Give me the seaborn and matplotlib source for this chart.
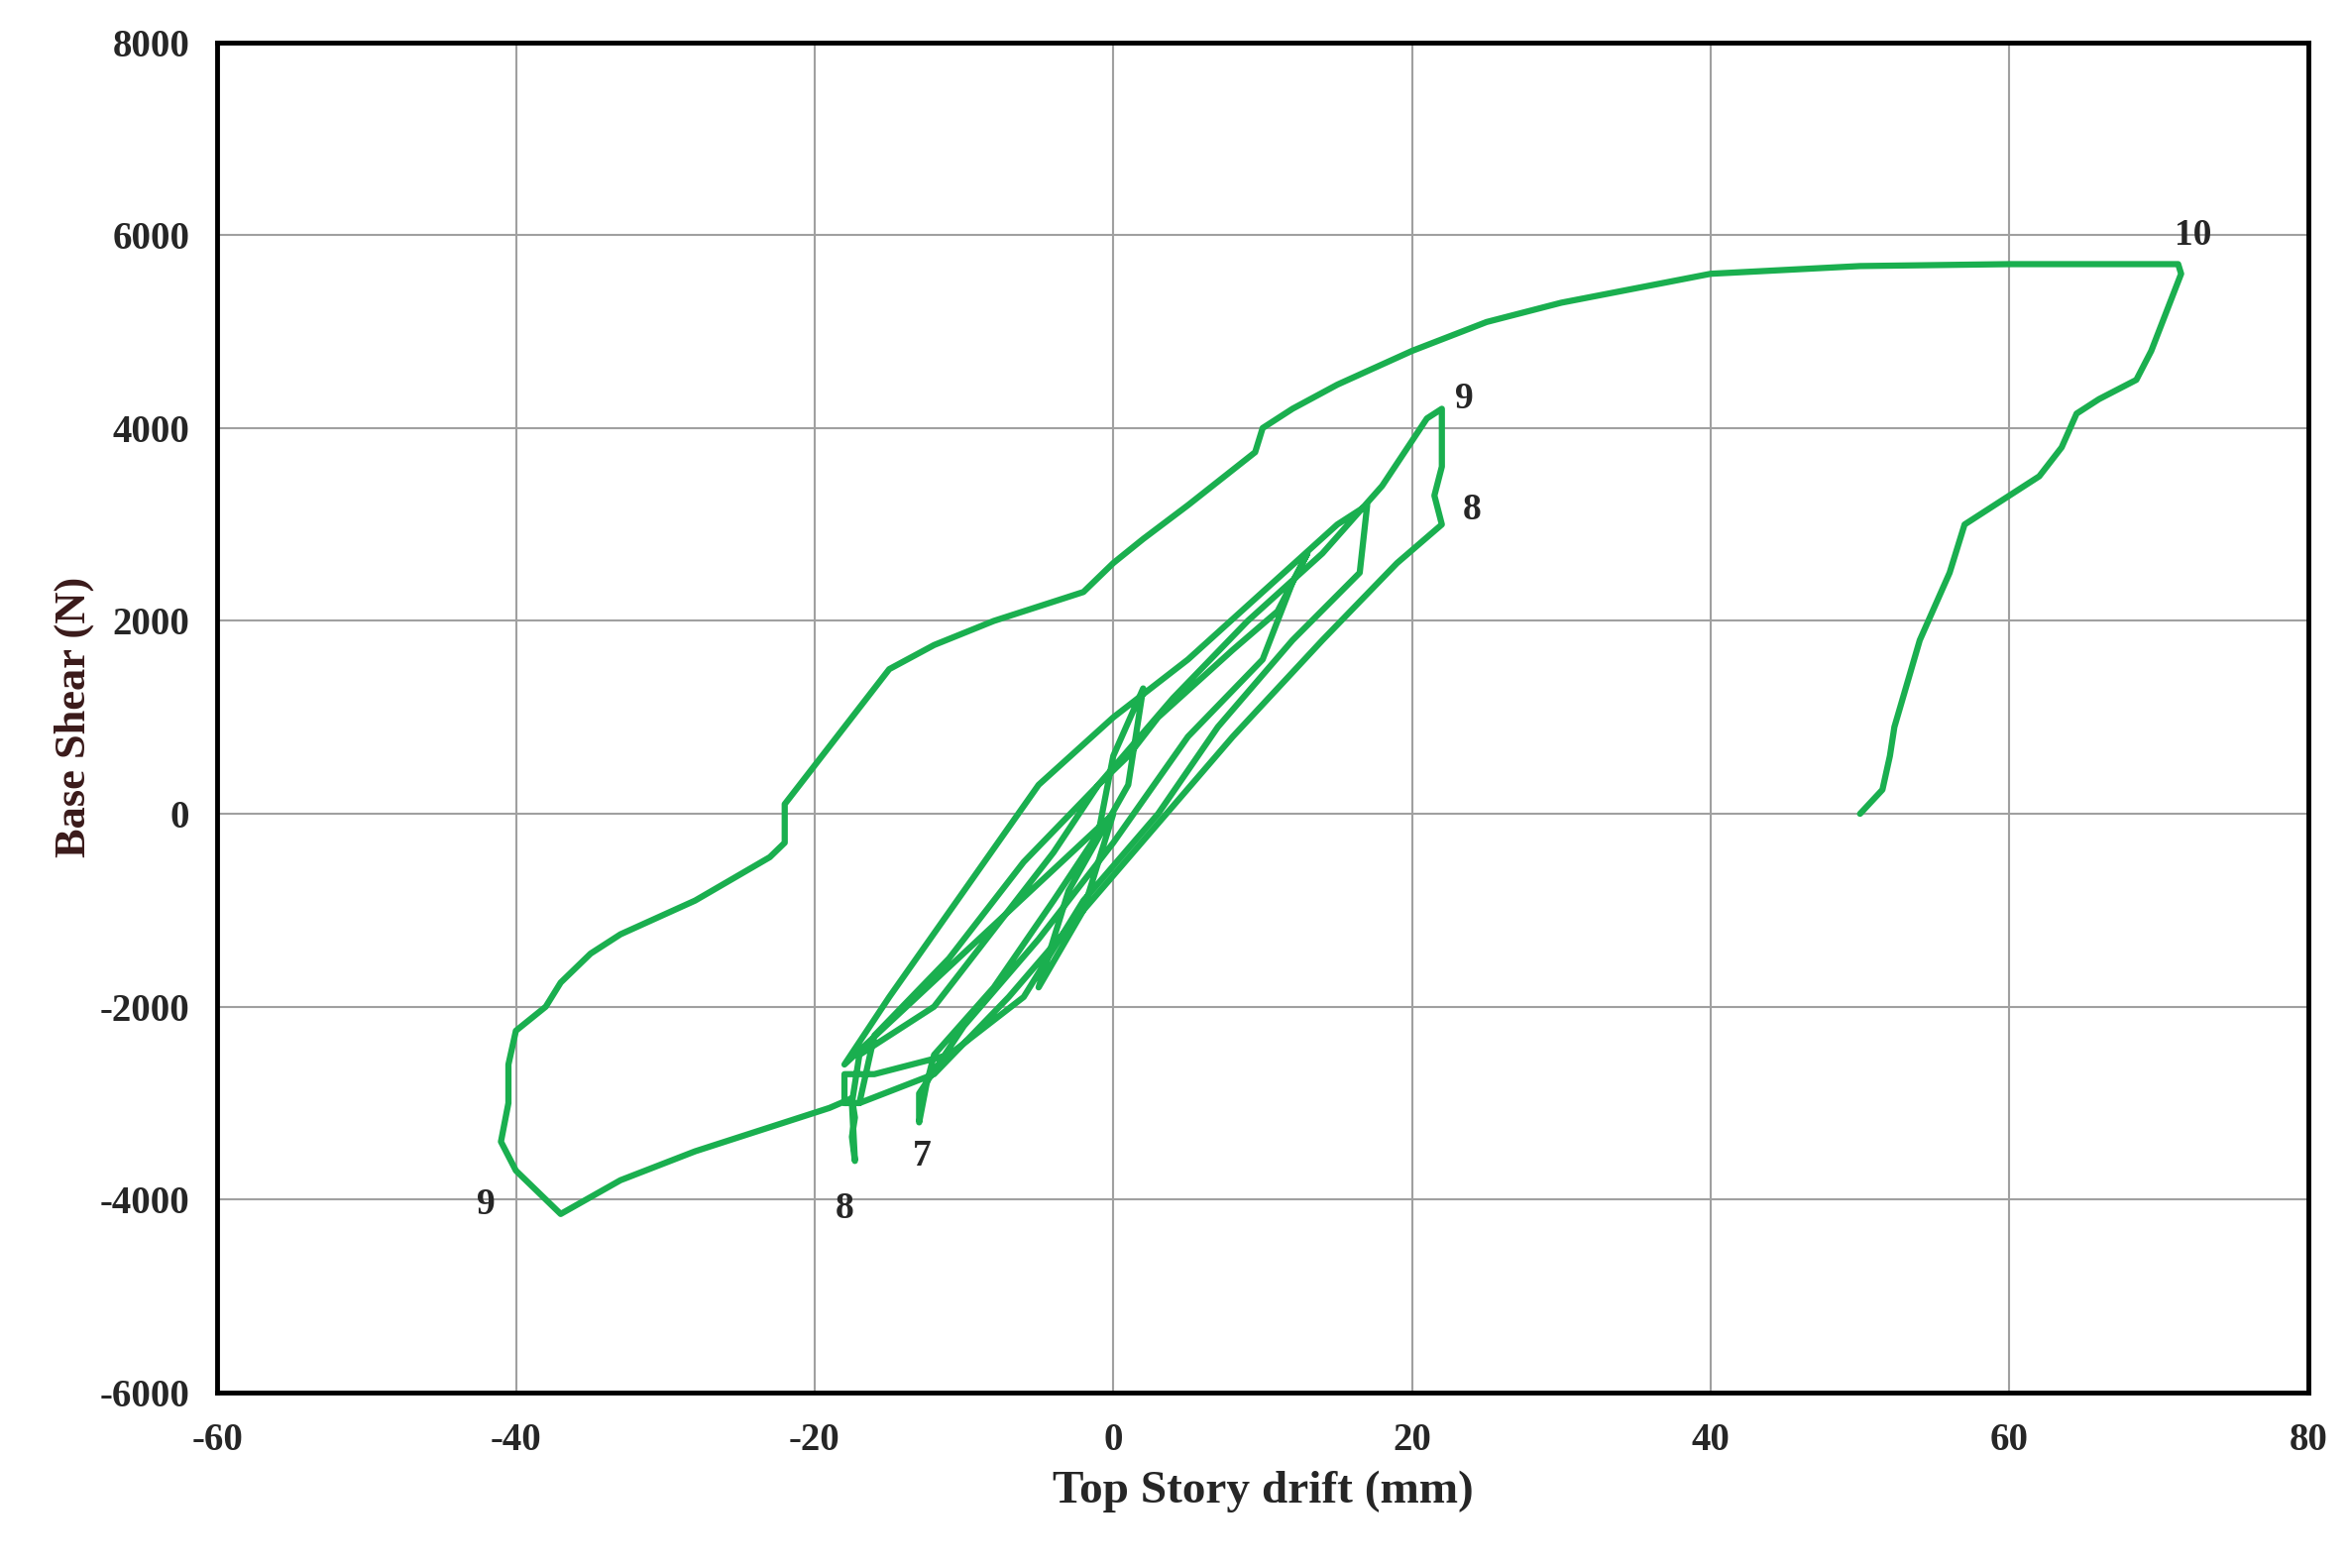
import matplotlib
matplotlib.use("Agg")
import matplotlib.pyplot as plt
import seaborn as sns
import pandas as pd

sns.set_style("whitegrid")
plt.rcParams['font.family'] = ['Liberation Serif', 'DejaVu Serif']
plt.rcParams['axes.unicode_minus'] = False

# hysteresis path (drift mm, base shear N)
drift = [50, 51.5, 52, 52.3, 54, 56, 57, 60, 62, 63.5, 64.5, 66, 68.5, 69.5, 71, 71.5, 71.3,
         65, 60, 50, 40, 30, 25, 20, 15, 12, 10, 9.5, 5, 2, 0, -2, -8, -12, -15, -16.5, -18, -20, -22, -22, -23,
         -28, -33, -35, -37, -38, -40, -40.5, -40.5, -41, -40, -37,
         -33, -28, -22, -19, -17.5, -17.3, -17.5, -17.3,
         -17.5, -17, -12, -8, -4, -1, 1, 3, 8, 11, 13, 12, 10, 5, 0, -5, -10, -13, -13,
         -12.5, -12, -8, -4, -1, 0, 2, 1, -3, -5, -2, 0,
         -18, -15, -10, -5, 0, 5, 10, 15, 17, 16.5, 12, 7, 3, -2, -6, -11, -16, -18, -18,
         -17, -16, -11, -6, -1, 4, 9, 14, 18, 21, 22, 22, 21.5, 22, 19, 14, 8, 3, -2, -7, -12, -17]
shear = [0, 250, 600, 900, 1800, 2500, 3000, 3300, 3500, 3800, 4150, 4300, 4500, 4800, 5400, 5600, 5700,
         5700, 5700, 5680, 5600, 5300, 5100, 4800, 4450, 4200, 4000, 3750, 3200, 2850, 2600, 2300, 2000, 1750, 1500, 1200, 900, 500, 100, -300, -450,
         -900, -1250, -1450, -1750, -2000, -2250, -2600, -3000, -3400, -3700, -4150,
         -3800, -3500, -3200, -3050, -2950, -3150, -3350, -3600,
         -3000, -2500, -2000, -1200, -400, 300, 600, 1000, 1700, 2100, 2700, 2400, 1600, 800, -300, -1300, -2200, -2900, -3200,
         -2800, -2500, -1800, -900, -200, 600, 1300, 300, -800, -1800, -1000, 0,
         -2600, -1900, -800, 300, 1000, 1600, 2300, 3000, 3200, 2500, 1800, 900, 0, -900, -1900, -2500, -2700, -2700, -3000,
         -3000, -2300, -1500, -500, 300, 1200, 2000, 2700, 3400, 4100, 4200, 3600, 3300, 3000, 2600, 1800, 800, -100, -1000, -1900, -2700, -3000]

label_text = ['10', '9', '8', '7', '8', '9']
label_x = [72.3, 23.5, 24, -12.8, -18, -42]
label_y = [6000, 4300, 3150, -3550, -4100, -4050]

df = pd.DataFrame({'drift': drift, 'shear': shear})

fig = plt.figure(figsize=(23.69, 15.82), dpi=100)
ax = fig.add_axes([0.0925, 0.112, 0.8905, 0.861])
sns.lineplot(data=df, x='drift', y='shear', sort=False, estimator=None,
             color='#1aaf4f', linewidth=4.5, ax=ax)

for t, x, y in zip(label_text, label_x, label_y):
    ax.text(x, y, t, fontsize=27, fontweight='bold', ha='center', va='center')

ax.set_xlim(-60, 80)
ax.set_ylim(-6000, 8000)
ax.set_xticks(range(-60, 81, 20))
ax.set_yticks(range(-6000, 8001, 2000))
ax.grid(True, color='#a0a0a0', linewidth=1.5)
for s in ax.spines.values():
    s.set_color('black')
    s.set_linewidth(3.5)
ax.tick_params(labelsize=28, length=0)
ax.tick_params(axis='x', pad=22)
ax.tick_params(axis='y', pad=20)
for lab in ax.get_xticklabels() + ax.get_yticklabels():
    lab.set_fontweight('bold')
ax.set_xlabel('Top Story drift (mm)', fontsize=34, fontweight='bold', labelpad=8)
ax.set_ylabel('Base Shear (N)', fontsize=32, fontweight='bold', color='#3a1a1a', labelpad=4)

fig.savefig('out.png', dpi=100)
